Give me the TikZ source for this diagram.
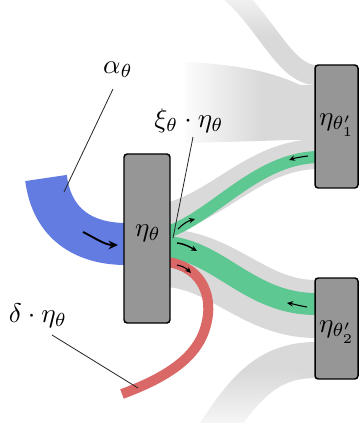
\documentclass[tikz,border=0pt]{standalone}
\usetikzlibrary{fadings,arrows.meta}
\definecolor{bandgray}{RGB}{217,217,217}
\definecolor{boxgray}{RGB}{150,150,150}
\definecolor{flowgreen}{RGB}{94,200,146}
\definecolor{flowblue}{RGB}{99,124,226}
\definecolor{flowred}{RGB}{218,104,102}
\newcommand{\pxu}{0.37pt}
\tikzset{
  gband/.style={draw=bandgray},
  gflow/.style={draw=flowgreen},
  bflow/.style={draw=flowblue},
  rflow/.style={draw=flowred},
  statebox/.style={draw=black, fill=boxgray, line width=0.55pt, rounded corners=1.2pt, inner sep=0pt},
  lbl/.style={inner sep=0pt, font=\normalsize},
  pointer/.style={draw=black!85, line width=0.3pt},
  flowarrow/.style={draw=black, line width=0.4pt, -{Stealth[length=2.2pt,width=2pt]}},
  bigarrow/.style={draw=black, line width=0.7pt, -{Stealth[length=3.5pt,width=3.2pt]}}
}
\begin{document}
\begin{tikzpicture}[x=0.37pt,y=-0.37pt]
\useasboundingbox (0,0) rectangle (359,423);
% grey flows
\draw[gband, line width=30*\pxu] (168,218) .. controls (220,205) and (255,156) .. (316,154);
\draw[gband, line width=58*\pxu] (168,258) .. controls (225,262) and (255,309) .. (316,309);
\draw[gband, line width=20*\pxu] (228,-10) .. controls (265,20) and (285,75) .. (316,75);
\fill[bandgray] (185,62) .. controls (255,65) and (285,78) .. (300,85) -- (316,85) -- (316,140) -- (290,140) .. controls (260,141) and (225,142) .. (185,143) -- cycle;
\draw[gband, line width=36*\pxu] (212,438) .. controls (245,385) and (270,360) .. (316,360);
% fades
\fill[white, path fading=east] (180,50) rectangle (262,155);
\fill[white, path fading=south] (205,-22) rectangle (305,36);
\fill[white, path fading=north] (195,370) rectangle (300,440);
% coloured flows
\draw[gflow, line width=12*\pxu] (168,232) .. controls (215,215) and (255,160) .. (316,157);
\draw[gflow, line width=22*\pxu] (168,247) .. controls (220,252) and (250,304) .. (316,304);
\draw[rflow, line width=10*\pxu] (168,262) .. controls (205,268) and (213,300) .. (206,325) .. controls (198,358) and (165,378) .. (122,394);
\draw[bflow, line width=42*\pxu] (46,178) .. controls (52,225) and (85,244) .. (126,244);
% boxes
\node[statebox, minimum width=46*\pxu, minimum height=169*\pxu] (b0) at (147,238.5) {};
\node[statebox, minimum width=43*\pxu, minimum height=123*\pxu] (b1) at (336.5,126.5) {};
\node[statebox, minimum width=43*\pxu, minimum height=101*\pxu] (b2) at (336.5,328.5) {};
\node[lbl] (l0) at (148,233) {$\eta_\theta$};
\node[lbl] (l1) at (337,125) {$\eta_{\theta'_1}$};
\node[lbl] (l2) at (337,332) {$\eta_{\theta'_2}$};
% small arrows
\draw[bigarrow] (83,232) .. controls (95,238) and (105,245) .. (118,245);
\draw[flowarrow] (178,229) .. controls (184,223) and (188,221) .. (195,219);
\draw[flowarrow, line width=0.55pt] (177,243) .. controls (185,244) and (190,247) .. (197,251);
\draw[flowarrow] (177,265) .. controls (183,266) and (187,269) .. (191,273);
\draw[flowarrow] (308,156) .. controls (300,157) and (295,158) .. (289,160);
\draw[flowarrow] (307,307) .. controls (300,306) and (294,304) .. (287,303);
% labels
\node[lbl] (la) at (118,70) {$\alpha_\theta$};
\node[lbl] (lx) at (189,121) {$\xi_\theta \cdot \eta_\theta$};
\node[lbl] (ld) at (38,316) {$\delta \cdot \eta_\theta$};
\coordinate (pa) at (64,192);
\coordinate (px) at (173,238);
\coordinate (pd) at (138,388);
\draw[pointer] (113,89) -- (pa);
\draw[pointer] (193,137) -- (px);
\draw[pointer] (52,335) -- (pd);
\end{tikzpicture}
\end{document}
